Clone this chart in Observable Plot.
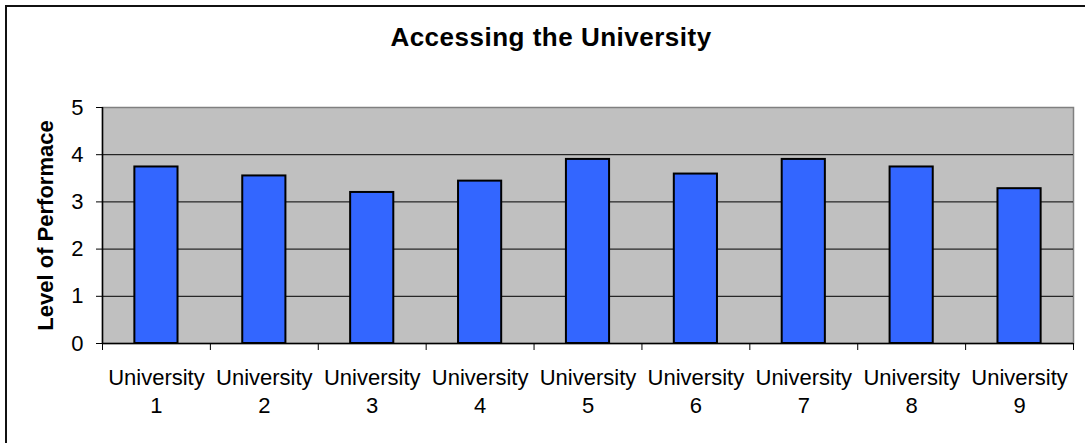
<!DOCTYPE html>
<html>
<head>
<meta charset="utf-8">
<script src="https://cdn.jsdelivr.net/npm/d3@7"></script>
<script src="https://cdn.jsdelivr.net/npm/@observablehq/plot@0.6"></script>
<style>
  html, body { margin: 0; padding: 0; background: #fff; }
  #wrap { position: relative; width: 1085px; height: 443px; overflow: hidden; background: #fff; }
  #border { position: absolute; left: 5px; top: 5px; width: 1200px; height: 1000px;
            border-left: 2px solid #111; border-top: 2px solid #111; box-sizing: border-box; }
  #title { position: absolute; left: 0; top: 24px; width: 1102px; text-align: center;
           font: bold 26px "Liberation Sans", Arial, sans-serif; line-height: 26px; letter-spacing: 0.5px; color: #000; }
  #chart { position: absolute; left: 0; top: 0; }
</style>
</head>
<body>
<div id="wrap">
  <div id="border"></div>
  <div id="title">Accessing the University</div>
  <div id="chart"></div>
</div>
<script>
const categories = ["University 1", "University 2", "University 3", "University 4", "University 5",
                    "University 6", "University 7", "University 8", "University 9"];
const values = [3.74, 3.55, 3.2, 3.44, 3.9, 3.59, 3.9, 3.74, 3.28];
const yTicks = [0, 1, 2, 3, 4, 5];
const yLabel = "Level of Performace";

const data = categories.map((c, i) => ({name: c, i, value: values[i]}));
const boundaries = d3.range(categories.length + 1);

const chart = Plot.plot({
  width: 1085,
  height: 443,
  marginLeft: 102,
  marginRight: 12,
  marginTop: 107,
  marginBottom: 100,
  style: {fontFamily: '"Liberation Sans", Arial, sans-serif', fontSize: "22px", color: "#000", background: "transparent"},
  x: {domain: [0, categories.length]},
  y: {domain: [0, 5]},
  marks: [
    Plot.frame({fill: "#C0C0C0", stroke: "#808080", strokeWidth: 1.5}),
    Plot.ruleY(yTicks.filter(t => t > 0 && t < 5), {stroke: "#000", strokeWidth: 1}),
    Plot.rectY(data, {x1: d => d.i + 0.3, x2: d => d.i + 0.7, y: "value", fill: "#3366FF", stroke: "#000", strokeWidth: 2}),
    Plot.ruleX([0], {stroke: "#000", strokeWidth: 1.5}),
    Plot.ruleY([0], {stroke: "#000", strokeWidth: 1.5}),
    Plot.axisY({ticks: yTicks, tickSize: 6, tickPadding: 13, label: null, tickFormat: d => String(d)}),
    Plot.axisX({ticks: boundaries, tickSize: 7, tickFormat: () => "", label: null}),
    Plot.text(data, {x: d => d.i + 0.5, y: () => 0, text: d => d.name.replace(" ", "\n"),
                     lineAnchor: "top", lineHeight: 1.26, dy: 22, fontSize: 22}),
    Plot.text([yLabel], {frameAnchor: "left", textAnchor: "middle", dx: -57, rotate: -90, fontWeight: "bold", fontSize: 22})
  ]
});
document.getElementById("chart").appendChild(chart);
</script>
</body>
</html>
